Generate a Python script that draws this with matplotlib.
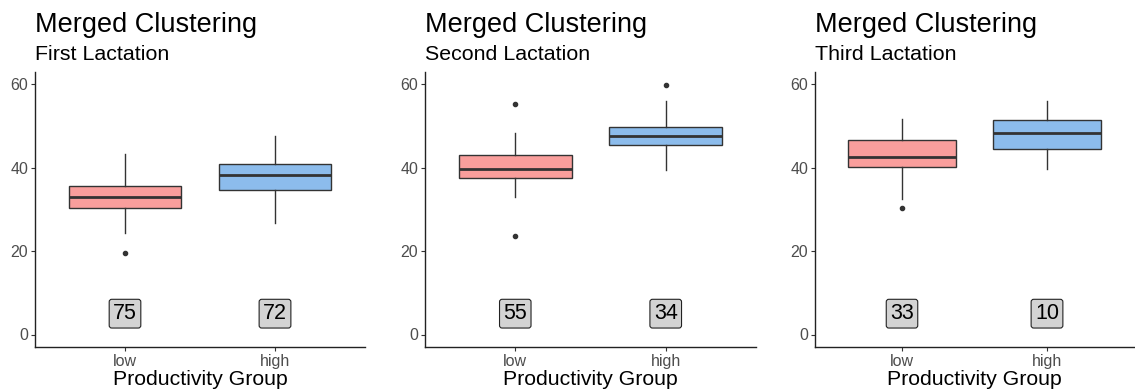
import matplotlib.pyplot as plt

plt.rcParams['font.family'] = ['Liberation Sans', 'DejaVu Sans']

# Box statistics, one list entry per panel: [low, high]
subtitles = ['First Lactation', 'Second Lactation', 'Third Lactation']
groups = ['low', 'high']
q1 = [[30.4, 34.7], [37.6, 45.4], [40.1, 44.6]]
med = [[33.0, 38.3], [39.8, 47.6], [42.5, 48.3]]
q3 = [[35.6, 40.9], [43.1, 49.8], [46.6, 51.5]]
whislo = [[24.4, 26.8], [33.1, 39.5], [32.5, 39.6]]
whishi = [[43.2, 47.7], [48.3, 56.1], [51.6, 56.1]]
outliers = [[[19.6], []], [[55.3, 23.6], [59.8]], [[30.4], []]]
counts = [[75, 72], [55, 34], [33, 10]]

fill_colors = ['#F99E9C', '#8CBCEC']
W, H = 1135, 391
fig = plt.figure(figsize=(W / 100, H / 100), dpi=100)

# axes pixel extents (left, right)
extents = [(35, 365), (425, 756), (815, 1134)]
top, bottom = 72, 347

for i, (x0, x1) in enumerate(extents):
    ax = fig.add_axes([x0 / W, 1 - bottom / H, (x1 - x0) / W, (bottom - top) / H])
    stats = []
    for j in range(2):
        stats.append(dict(med=med[i][j], q1=q1[i][j], q3=q3[i][j],
                          whislo=whislo[i][j], whishi=whishi[i][j],
                          fliers=outliers[i][j]))
    bp = ax.bxp(stats, positions=[1, 2], widths=0.75, patch_artist=True,
                showcaps=False,
                boxprops=dict(edgecolor='#333333', linewidth=1),
                medianprops=dict(color='#333333', linewidth=2),
                whiskerprops=dict(color='#333333', linewidth=1),
                flierprops=dict(marker='o', markersize=3, markerfacecolor='#333333',
                                markeredgecolor='#333333'))
    for patch, c in zip(bp['boxes'], fill_colors):
        patch.set_facecolor(c)

    for j in range(2):
        ax.text(j + 1, 5, str(counts[i][j]), ha='center', va='center', fontsize=15.5,
                color='black',
                bbox=dict(boxstyle='round,pad=0.18,rounding_size=0.12',
                          facecolor='#D3D3D3', edgecolor='#222222', linewidth=0.8))

    ax.set_xlim(0.4, 2.6)
    ax.set_ylim(-3, 63)
    ax.set_yticks([0, 20, 40, 60])
    ax.set_xticks([1, 2])
    ax.set_xticklabels(groups)
    ax.tick_params(axis='both', labelsize=11.5, labelcolor='#4D4D4D', color='#333333',
                   length=3, width=0.8, pad=2)
    for s in ['top', 'right']:
        ax.spines[s].set_visible(False)
    for s in ['left', 'bottom']:
        ax.spines[s].set_color('#222222')
        ax.spines[s].set_linewidth(1)
    ax.set_xlabel('Productivity Group', fontsize=15.3, labelpad=1)

    fig.text(x0 / W, 1 - 32 / H, 'Merged Clustering', fontsize=19.5, ha='left',
             va='baseline')
    fig.text(x0 / W, 1 - 60 / H, subtitles[i], fontsize=15.4, ha='left', va='baseline')

fig.savefig('out.png', dpi=100)
